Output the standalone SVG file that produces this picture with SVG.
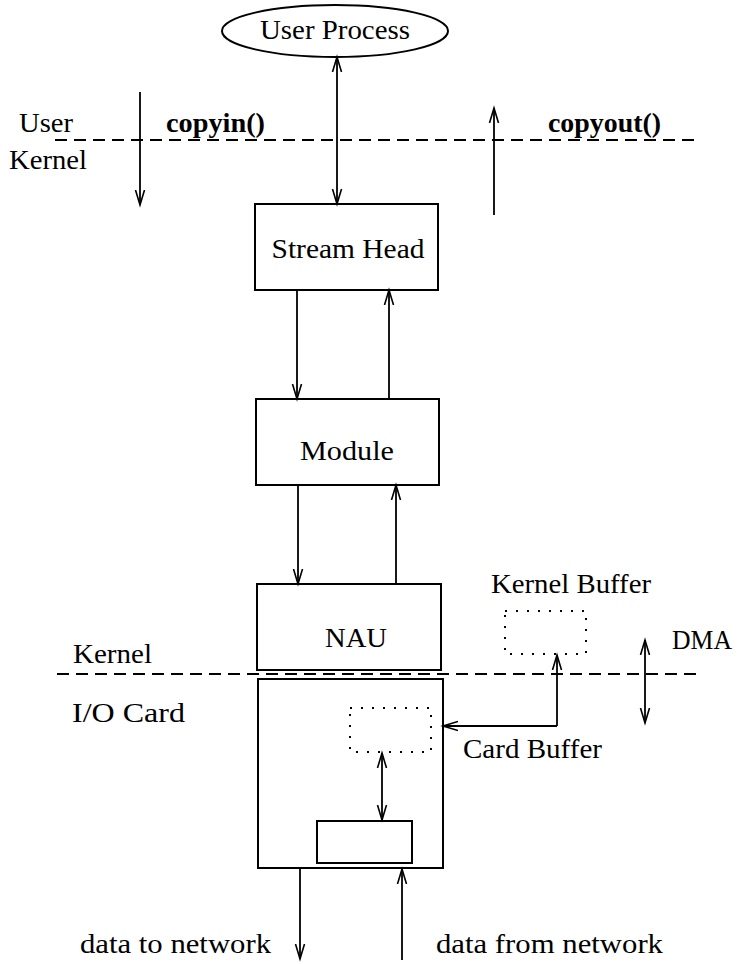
<svg xmlns="http://www.w3.org/2000/svg" width="739" height="964" viewBox="0 0 739 964">
<defs>
<marker id="ah" markerUnits="userSpaceOnUse" markerWidth="18" markerHeight="12" refX="15" refY="5" orient="auto-start-reverse" viewBox="0 0 18 10">
<path d="M0,0.5 L15,5 L0,9.5" fill="none" stroke="#000" stroke-width="1.6"/>
</marker>
<style>
text{font-family:"Liberation Serif","Times New Roman",serif;font-size:27px;fill:#000}
.b{font-weight:bold}
.box{fill:#fff;stroke:#000;stroke-width:2}
.dot{fill:none;stroke:#000;stroke-width:2;stroke-dasharray:2 9}
.dash{fill:none;stroke:#000;stroke-width:1.8;stroke-dasharray:12 7}
.c{fill:none;stroke:#000;stroke-width:1.8}
.a{marker-end:url(#ah)}
.d{marker-start:url(#ah);marker-end:url(#ah)}
</style>
</defs>
<g id="boundaries">
<line class="dash" x1="55" y1="140" x2="698" y2="140"/>
<line class="dash" x1="57" y1="674" x2="700" y2="674"/>
</g>
<g id="labels">
<text x="19" y="132" textLength="54" lengthAdjust="spacingAndGlyphs">User</text>
<text x="9" y="169" textLength="78" lengthAdjust="spacingAndGlyphs">Kernel</text>
<text class="b" x="166" y="132" textLength="99" lengthAdjust="spacingAndGlyphs">copyin()</text>
<text class="b" x="548" y="132" textLength="113" lengthAdjust="spacingAndGlyphs">copyout()</text>
<text x="73" y="663" textLength="79" lengthAdjust="spacingAndGlyphs">Kernel</text>
<text x="72" y="722" textLength="113" lengthAdjust="spacingAndGlyphs">I/O Card</text>
<text x="491" y="593" textLength="160" lengthAdjust="spacingAndGlyphs">Kernel Buffer</text>
<text x="672" y="649" textLength="60" lengthAdjust="spacingAndGlyphs">DMA</text>
<text x="463" y="758" textLength="139" lengthAdjust="spacingAndGlyphs">Card Buffer</text>
<text x="80" y="953" textLength="191" lengthAdjust="spacingAndGlyphs">data to network</text>
<text x="436" y="953" textLength="227" lengthAdjust="spacingAndGlyphs">data from network</text>
</g>
<g id="user-process">
<ellipse class="box" cx="335" cy="31" rx="113" ry="26"/>
<text x="335" y="39" text-anchor="middle" textLength="150" lengthAdjust="spacingAndGlyphs">User Process</text>
</g>
<g id="stream-head">
<rect class="box" x="255" y="204" width="183" height="86"/>
<text x="348" y="258" text-anchor="middle" textLength="153" lengthAdjust="spacingAndGlyphs">Stream Head</text>
</g>
<g id="module">
<rect class="box" x="256" y="399" width="183" height="86"/>
<text x="347" y="460" text-anchor="middle" textLength="94" lengthAdjust="spacingAndGlyphs">Module</text>
</g>
<g id="nau">
<rect class="box" x="257" y="584" width="184" height="86"/>
<text x="356" y="647" text-anchor="middle" textLength="62" lengthAdjust="spacingAndGlyphs">NAU</text>
</g>
<g id="io-card">
<rect class="box" x="258" y="679" width="185" height="189"/>
</g>
<g id="card-buffer">
<rect class="dot" x="350" y="708" width="81" height="44"/>
</g>
<g id="kernel-buffer">
<rect class="dot" x="505" y="611" width="81" height="43"/>
</g>
<g id="interface">
<rect class="box" x="317" y="821" width="95" height="42"/>
</g>
<g id="connectors">
<line class="c d" x1="337" y1="57" x2="337" y2="204"/>
<line class="c a" x1="140" y1="92" x2="140" y2="205"/>
<line class="c a" x1="494" y1="215" x2="494" y2="108"/>
<line class="c a" x1="297" y1="290" x2="297" y2="399"/>
<line class="c a" x1="389" y1="399" x2="389" y2="290"/>
<line class="c a" x1="298" y1="485" x2="298" y2="584"/>
<line class="c a" x1="396" y1="584" x2="396" y2="485"/>
<polyline class="c a" points="557,726 557,655"/>
<polyline class="c a" points="557,726 443,726"/>
<line class="c d" x1="645" y1="640" x2="645" y2="723"/>
<line class="c d" x1="382" y1="753" x2="382" y2="820"/>
<line class="c a" x1="300" y1="868" x2="300" y2="959"/>
<line class="c a" x1="402" y1="960" x2="402" y2="869"/>
</g>
</svg>
